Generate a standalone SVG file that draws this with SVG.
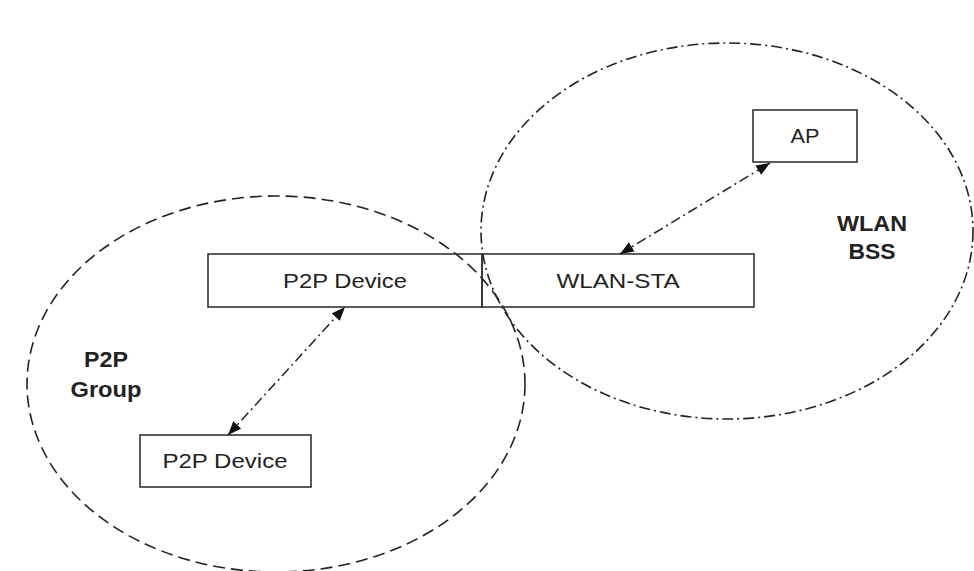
<svg xmlns="http://www.w3.org/2000/svg" width="974" height="571" viewBox="0 0 974 571">
<style>
.box{fill:none;stroke:#333;stroke-width:1.6}
.lbl{font-family:"Liberation Sans",Arial,sans-serif;font-size:21px;fill:#222;text-anchor:middle}
.bold{font-family:"Liberation Sans",Arial,sans-serif;font-size:22px;font-weight:bold;fill:#222;text-anchor:middle}
.dash{fill:none;stroke:#222;stroke-width:1.6;stroke-dasharray:12 6}
.dashdot{fill:none;stroke:#222;stroke-width:1.6;stroke-dasharray:11 4 2 4}
.conn{fill:none;stroke:#222;stroke-width:1.5;stroke-dasharray:10 4 2 4;marker-start:url(#ah);marker-end:url(#ah)}
</style>
<defs>
<marker id="ah" viewBox="0 0 10 8" refX="10" refY="4" markerWidth="14" markerHeight="11" markerUnits="userSpaceOnUse" orient="auto-start-reverse">
<path d="M0,0 L10,4 L0,8 Z" fill="#111"/>
</marker>
</defs>
<rect width="974" height="571" fill="#fff"/>
<g id="groups">
<ellipse id="p2p-group-area" class="dash" cx="276" cy="384" rx="249" ry="188"/>
<ellipse id="wlan-bss-area" class="dashdot" cx="727" cy="231" rx="246" ry="188"/>
</g>
<g id="node-p2p-device-top">
<rect class="box" x="208" y="254" width="274" height="53"/>
<text class="lbl" x="345" y="288" textLength="124" lengthAdjust="spacingAndGlyphs">P2P Device</text>
</g>
<g id="node-wlan-sta">
<rect class="box" x="482" y="254" width="272" height="53"/>
<text class="lbl" x="618" y="288" textLength="123" lengthAdjust="spacingAndGlyphs">WLAN-STA</text>
</g>
<g id="node-ap">
<rect class="box" x="753" y="110" width="104" height="52"/>
<text class="lbl" x="805" y="143" textLength="29" lengthAdjust="spacingAndGlyphs">AP</text>
</g>
<g id="node-p2p-device-bottom">
<rect class="box" x="140" y="435" width="171" height="52"/>
<text class="lbl" x="225" y="468" textLength="125" lengthAdjust="spacingAndGlyphs">P2P Device</text>
</g>
<g id="label-wlan-bss">
<text class="bold" x="872" y="231" textLength="70" lengthAdjust="spacingAndGlyphs">WLAN</text>
<text class="bold" x="872" y="259" textLength="47" lengthAdjust="spacingAndGlyphs">BSS</text>
</g>
<g id="label-p2p-group">
<text class="bold" x="106" y="367" textLength="44" lengthAdjust="spacingAndGlyphs">P2P</text>
<text class="bold" x="106" y="397" textLength="71" lengthAdjust="spacingAndGlyphs">Group</text>
</g>
<g id="connectors">
<line class="conn" x1="620" y1="254" x2="770" y2="163"/>
<line class="conn" x1="228" y1="435" x2="345" y2="307"/>
</g>
</svg>
